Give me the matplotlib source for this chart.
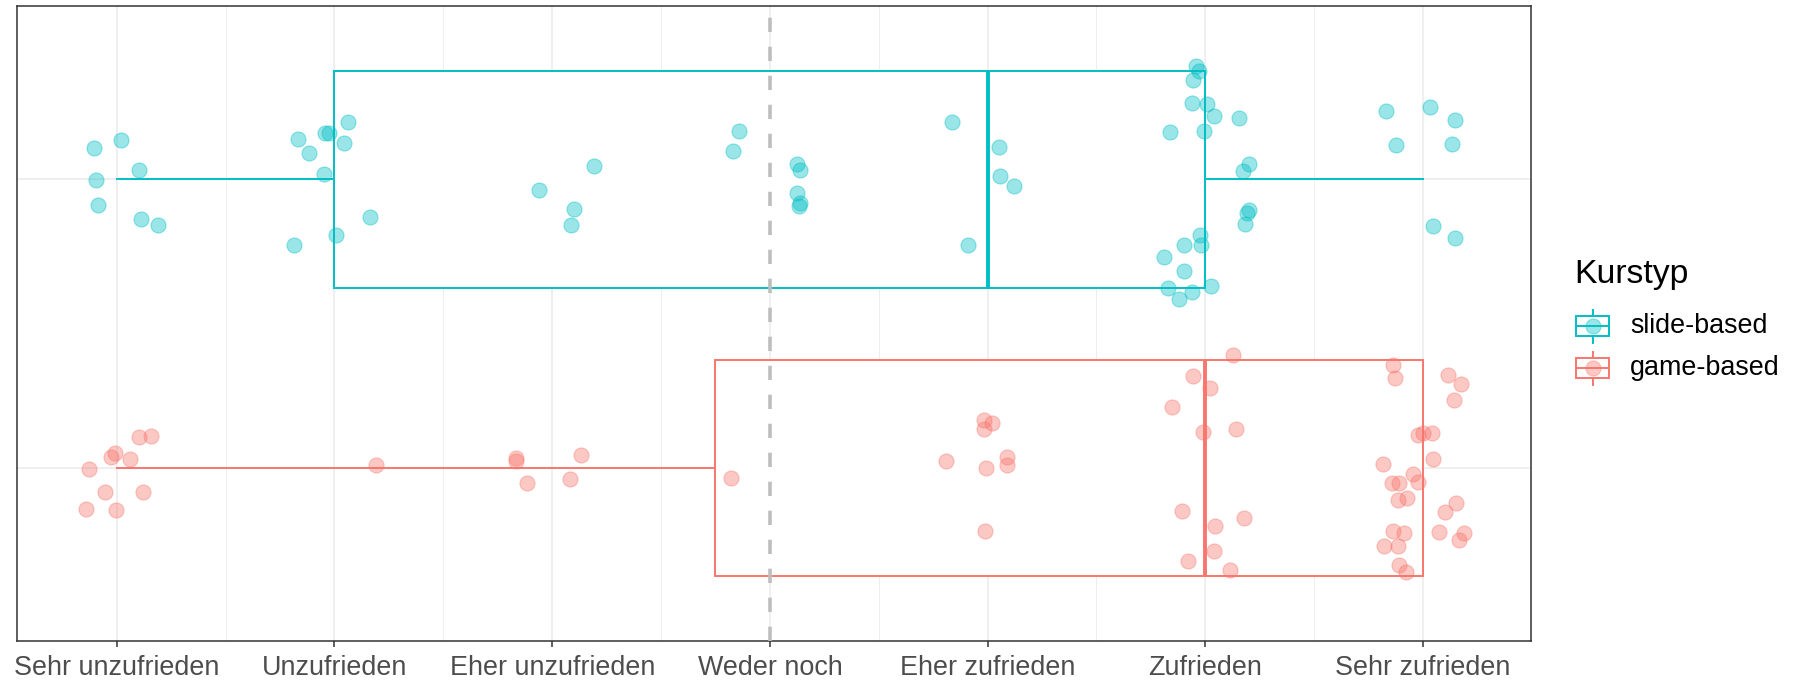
import numpy as np
import matplotlib.pyplot as plt
from matplotlib.patches import Rectangle
from matplotlib.lines import Line2D

plt.rcParams["font.family"] = ["Liberation Sans", "DejaVu Sans"]

categories = ["Sehr unzufrieden", "Unzufrieden", "Eher unzufrieden", "Weder noch",
              "Eher zufrieden", "Zufrieden", "Sehr zufrieden"]
group_names = ["slide-based", "game-based"]
group_colors = ["#00BFC4", "#F8766D"]
group_pos = [2, 1]

# slide-based: answers (1..7) and the jitter offsets
slide_values = [1, 1, 1, 1, 1, 1, 1,
                2, 2, 2, 2, 2, 2, 2, 2, 2, 2,
                3, 3, 3, 3,
                4, 4, 4, 4, 4, 4, 4,
                5, 5, 5, 5, 5,
                6, 6, 6, 6, 6, 6, 6, 6, 6, 6, 6, 6, 6, 6, 6, 6, 6, 6, 6, 6, 6, 6, 6,
                7, 7, 7, 7, 7, 7, 7]
slide_jx = [-0.103, 0.021, 0.101, -0.096, -0.087, 0.110, 0.187,
            -0.168, -0.116, -0.042, -0.025, 0.062, 0.045, -0.046, 0.162, 0.005, -0.184,
            -0.062, 0.191, 0.100, 0.086,
            -0.143, -0.169, 0.126, 0.138, 0.126, 0.138, 0.133,
            -0.165, -0.090, 0.054, 0.059, 0.120,
            -0.045, -0.027, -0.055, -0.059, 0.007, 0.039, 0.156, -0.164, -0.004, 0.201,
            0.172, 0.201, 0.190, 0.181, -0.025, -0.096, -0.020, -0.192, -0.096, -0.173,
            -0.059, -0.121, 0.025,
            -0.168, 0.033, 0.145, -0.122, 0.131, 0.047, 0.145]
slide_jy = [0.108, 0.137, 0.032, -0.001, -0.089, -0.136, -0.158,
            0.140, 0.091, 0.162, 0.162, 0.198, 0.127, 0.018, -0.131, -0.191, -0.229,
            -0.037, 0.046, -0.103, -0.159,
            0.167, 0.098, 0.052, 0.032, -0.046, -0.081, -0.092,
            0.198, -0.229, 0.112, 0.011, -0.023,
            0.392, 0.375, 0.346, 0.265, 0.260, 0.220, 0.212, 0.165, 0.167, 0.055,
            0.029, -0.105, -0.117, -0.156, -0.191, -0.229, -0.229, -0.268, -0.318, -0.378,
            -0.390, -0.416, -0.370,
            0.237, 0.252, 0.205, 0.118, 0.121, -0.162, -0.203]

# game-based
game_values = [1, 1, 1, 1, 1, 1, 1, 1, 1, 1,
               2,
               3, 3, 3, 3, 3,
               4,
               5, 5, 5, 5, 5, 5, 5, 5,
               6, 6, 6, 6, 6, 6, 6, 6, 6, 6, 6, 6,
               7, 7, 7, 7, 7, 7, 7, 7, 7, 7, 7, 7, 7, 7, 7, 7, 7, 7, 7, 7, 7, 7, 7, 7, 7, 7, 7]
game_jx = [-0.129, -0.054, -0.141, -0.002, 0.122, -0.026, -0.009, 0.059, 0.101, 0.155,
           0.191,
           -0.167, -0.165, -0.116, 0.081, 0.130,
           -0.181,
           -0.017, 0.022, -0.017, -0.193, -0.007, 0.088, 0.088, -0.012,
           0.128, -0.055, 0.021, -0.153, -0.009, 0.142, -0.107, 0.176, 0.044, 0.039, -0.080, 0.115,
           -0.138, -0.129, 0.113, 0.175, 0.141, -0.022, -0.001, 0.042, 0.045, -0.184, -0.045,
           -0.022, -0.143, -0.109, -0.115, -0.074, 0.150, 0.102, -0.138, -0.088, 0.072, 0.189,
           0.166, -0.177, -0.115, -0.109, -0.079]
game_jy = [-0.004, -0.085, -0.141, -0.145, -0.085, 0.038, 0.052, 0.032, 0.107, 0.110,
           0.009,
           0.035, 0.023, -0.051, -0.037, 0.044,
           -0.034,
           0.167, 0.157, 0.136, 0.023, 0.000, 0.038, 0.009, -0.219,
           0.390, 0.318, 0.277, 0.211, 0.125, 0.135, -0.150, -0.175, -0.201, -0.289, -0.322, -0.353,
           0.357, 0.310, 0.321, 0.292, 0.234, 0.113, 0.122, 0.122, 0.031, 0.013, -0.020,
           -0.049, -0.054, -0.054, -0.112, -0.106, -0.123, -0.152, -0.220, -0.225, -0.223, -0.227,
           -0.250, -0.270, -0.270, -0.335, -0.360]

values = [slide_values, game_values]
jitter_x = [slide_jx, game_jx]
jitter_y = [slide_jy, game_jy]

W, H = 1808, 682
fig = plt.figure(figsize=(W / 100, H / 100), dpi=100)
left, right, top, bottom = 17.3, 1531, 6.3, 641
ax = fig.add_axes([left / W, 1 - bottom / H, (right - left) / W, (bottom - top) / H])

# grid
for x in range(1, 8):
    ax.axvline(x, color="#EBEBEB", lw=1.1, zorder=0)
for x in np.arange(1.5, 7, 1.0):
    ax.axvline(x, color="#EBEBEB", lw=0.6, zorder=0)
for y in group_pos:
    ax.axhline(y, color="#EBEBEB", lw=1.1, zorder=0)

for vals, pos, col in zip(values, group_pos, group_colors):
    ax.boxplot(vals, positions=[pos], orientation="horizontal", widths=0.75, whis=1.5,
               showfliers=False, showcaps=False, patch_artist=True,
               boxprops=dict(facecolor="white", edgecolor=col, linewidth=1.4),
               whiskerprops=dict(color=col, linewidth=1.4),
               medianprops=dict(color=col, linewidth=2.8),
               zorder=2)

ax.axvline(4, color="#BEBEBE", lw=2.6, dashes=(3.96, 4.07), zorder=3)

for vals, jx, jy, pos, col in zip(values, jitter_x, jitter_y, group_pos, group_colors):
    px = np.array(vals) + np.array(jx)
    py = pos + np.array(jy)
    ax.scatter(px, py, s=118, color=col, alpha=0.4, edgecolors=col, linewidths=0.8, zorder=4)

ax.set_xlim(0.543, 7.496)
ax.set_ylim(0.40, 2.60)
ax.set_xticks(range(1, 8))
ax.set_xticklabels(categories, fontsize=19.4, color="#4D4D4D")
ax.set_yticks([])
ax.tick_params(axis="x", length=4.5, width=1.1, color="#333333", pad=5.5)
for sp in ax.spines.values():
    sp.set_color("#333333")
    sp.set_linewidth(1.1)

# legend drawn in pixel coordinates
lg = fig.add_axes([0, 0, 1, 1], facecolor="none")
lg.set_xlim(0, W)
lg.set_ylim(H, 0)
lg.axis("off")
lg.text(1574, 275, "Kurstyp", fontsize=24.3, va="center", ha="left", color="black")
key_x = 1593
for i, (name, col) in enumerate(zip(group_names, group_colors)):
    ky = 326 + i * 41.7
    lg.add_patch(Rectangle((key_x - 16.5, ky - 10), 33, 20, fill=False, edgecolor=col, lw=1.4))
    lg.add_line(Line2D([key_x - 16.5, key_x + 16.5], [ky, ky], color=col, lw=1.4))
    lg.add_line(Line2D([key_x, key_x], [ky - 16, ky - 10], color=col, lw=1.4))
    lg.add_line(Line2D([key_x, key_x], [ky + 10, ky + 17], color=col, lw=1.4))
    lg.scatter([key_x], [ky], s=118, color=col, alpha=0.4, edgecolors=col, linewidths=0.8)
    lg.text(1630, ky, name, fontsize=19.4, va="center", ha="left", color="black")

fig.savefig("out.png", dpi=100, facecolor="white")
plt.close(fig)
